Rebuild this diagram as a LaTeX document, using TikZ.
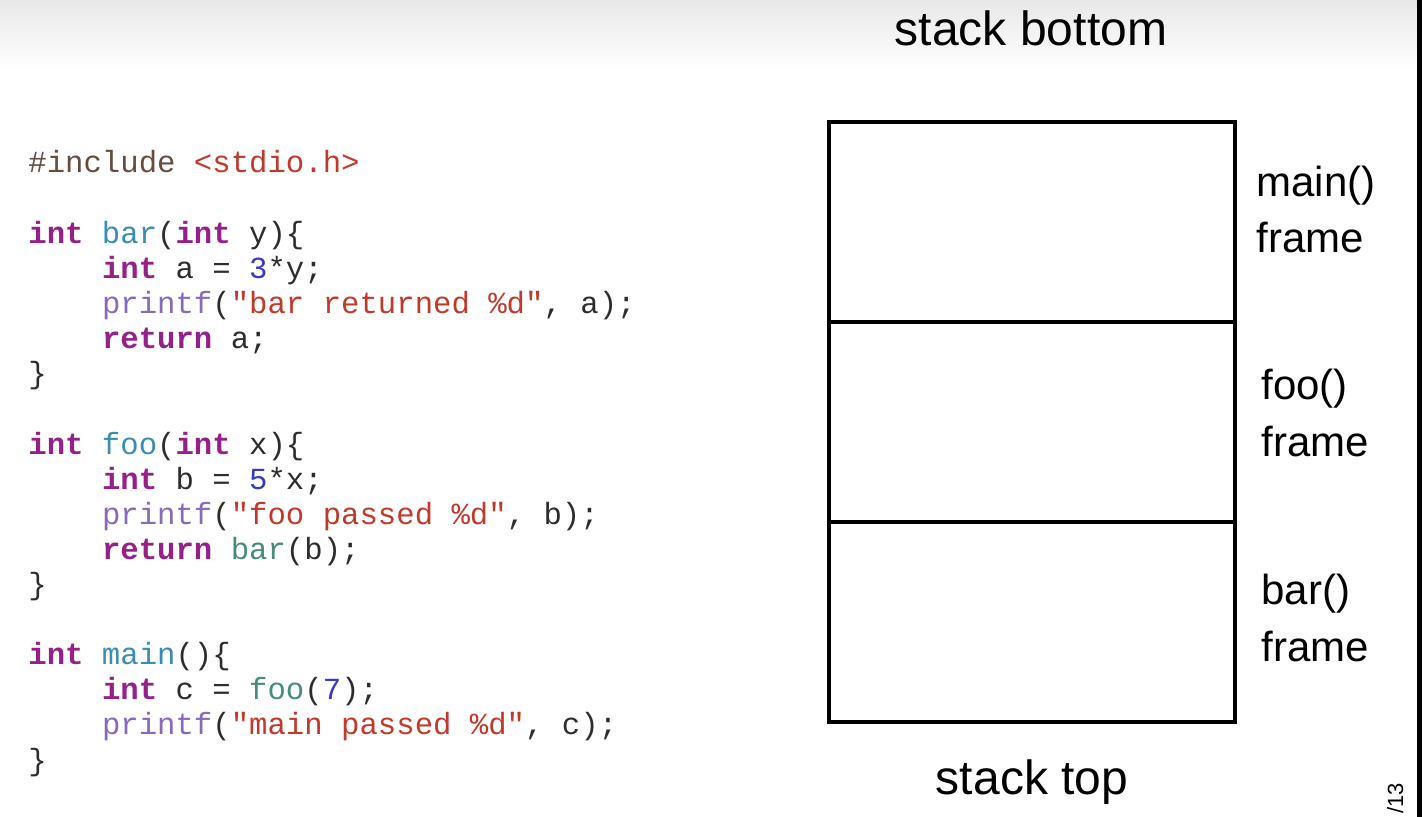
\documentclass[tikz,border=0pt]{standalone}
\usepackage{fontspec}
\setmainfont{Liberation Sans}
\setmonofont{Liberation Mono}
\usetikzlibrary{positioning}

\definecolor{kwcol}{RGB}{150,32,138}
\definecolor{fdefcol}{RGB}{58,140,178}
\definecolor{fcallcol}{RGB}{70,140,125}
\definecolor{pfcol}{RGB}{135,105,190}
\definecolor{strcol}{RGB}{192,57,43}
\definecolor{numcol}{RGB}{55,55,200}
\definecolor{inccol}{RGB}{105,75,62}
\definecolor{plaincol}{RGB}{45,45,45}

\newcommand{\kw}[1]{\textcolor{kwcol}{\bfseries #1}}
\newcommand{\fdef}[1]{\textcolor{fdefcol}{#1}}
\newcommand{\fcall}[1]{\textcolor{fcallcol}{#1}}
\newcommand{\pf}[1]{\textcolor{pfcol}{#1}}
\newcommand{\str}[1]{\textcolor{strcol}{#1}}
\newcommand{\num}[1]{\textcolor{numcol}{#1}}

\begin{document}
\begin{tikzpicture}[x=0.5pt,y=-0.5pt,
	codeline/.style={anchor=base west, inner sep=0pt, text=plaincol, font=\ttfamily\fontsize{15.33}{18}\selectfont},
	framebox/.style={draw=black, line width=2pt, inner sep=0pt, outer sep=0pt, minimum width=203pt, minimum height=100pt},
	framelabel/.style={anchor=base west, inner sep=0pt, font=\fontsize{21}{25}\selectfont},
	endlabel/.style={inner sep=0pt, font=\fontsize{24}{28}\selectfont},
	]
	\useasboundingbox (0,0) rectangle (1422,817);
	\shade[top color=black!9, bottom color=white] (0,0) rectangle (1422,70);
	\fill[black] (1417,0) rectangle (1422,817);

	%Code
	\node[codeline] (l0)  at (28,173)     {\textcolor{inccol}{\#include} \str{<stdio.h>}};
	\node[codeline] (l2)  at (28,243.2)   {\kw{int} \fdef{bar}(\kw{int} y)\{};
	\node[codeline] (l3)  at (101.6,278.4) {\kw{int} a = \num{3}*y;};
	\node[codeline] (l4)  at (101.6,313.4) {\pf{printf}(\str{"bar returned \%d"}, a);};
	\node[codeline] (l5)  at (101.6,348.5) {\kw{return} a;};
	\node[codeline] (l6)  at (28,383.7)   {\}};
	\node[codeline] (l8)  at (28,454)     {\kw{int} \fdef{foo}(\kw{int} x)\{};
	\node[codeline] (l9)  at (101.6,489.1) {\kw{int} b = \num{5}*x;};
	\node[codeline] (l10) at (101.6,524.2) {\pf{printf}(\str{"foo passed \%d"}, b);};
	\node[codeline] (l11) at (101.6,559.3) {\kw{return} \fcall{bar}(b);};
	\node[codeline] (l12) at (28,594.4)   {\}};
	\node[codeline] (l14) at (28,664.7)   {\kw{int} \fdef{main}()\{};
	\node[codeline] (l15) at (101.6,699.8) {\kw{int} c = \fcall{foo}(\num{7});};
	\node[codeline] (l16) at (101.6,734.9) {\pf{printf}(\str{"main passed \%d"}, c);};
	\node[codeline] (l17) at (28,770)     {\}};

	%Stack
	\node[framebox] (mainframe) at (1032,222) {};
	\node[framebox, below=0pt of mainframe] (fooframe) {};
	\node[framebox, below=0pt of fooframe] (barframe) {};

	\node[endlabel] (bottomlbl) at (1031,28)  {stack bottom};
	\node[endlabel] (toplbl)    at (1032,782) {stack top};

	\node[framelabel] (mainname) at (1256,197) {main()};
	\node[framelabel] (mainword) at (1256,253) {frame};
	\node[framelabel] (fooname)  at (1261,400) {foo()};
	\node[framelabel] (fooword)  at (1261,457) {frame};
	\node[framelabel] (barname)  at (1261,604) {bar()};
	\node[framelabel] (barword)  at (1261,661) {frame};

	\node[rotate=90, anchor=base west, inner sep=0pt, font=\fontsize{11}{13}\selectfont] (pagenum) at (1403,814) {/13};
\end{tikzpicture}
\end{document}
